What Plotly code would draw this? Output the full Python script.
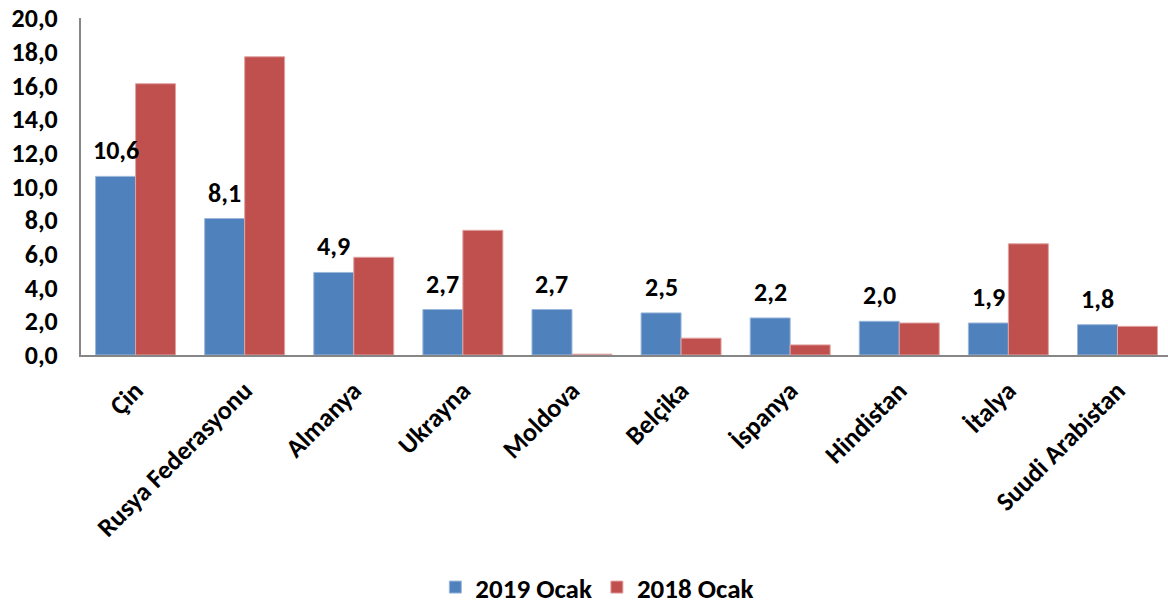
import plotly.graph_objects as go

categories = ["Çin", "Rusya Federasyonu", "Almanya", "Ukrayna", "Moldova",
              "Belçika", "İspanya", "Hindistan", "İtalya", "Suudi Arabistan"]
values_2019 = [10.6, 8.1, 4.9, 2.7, 2.7, 2.5, 2.2, 2.0, 1.9, 1.8]
values_2018 = [16.1, 17.7, 5.8, 7.4, 0.05, 1.0, 0.6, 1.9, 6.6, 1.7]
series_names = ["2019 Ocak", "2018 Ocak"]
y_ticks = [0, 2, 4, 6, 8, 10, 12, 14, 16, 18, 20]

FONT = "Carlito, Calibri, 'Open Sans', sans-serif"
BLUE = "#4F81BD"
RED = "#C0504D"

fig = go.Figure()
fig.add_trace(go.Bar(x=categories, y=values_2019, name=series_names[0],
                     marker=dict(color=BLUE, line=dict(color="#9DB7DB", width=1))))
fig.add_trace(go.Bar(x=categories, y=values_2018, name=series_names[1],
                     marker=dict(color=RED, line=dict(color="#E0A3A2", width=1))))

for c, v in zip(categories, values_2019):
    fig.add_annotation(x=c, y=v, text=f"{v:.1f}".replace(".", ","),
                       showarrow=False, xshift=-20, yshift=26, yanchor="middle",
                       font=dict(family=FONT, size=26, color="black", weight="bold"))

fig.update_layout(
    width=1168, height=605,
    margin=dict(l=81, r=0, t=18, b=250, autoexpand=False),
    paper_bgcolor="white", plot_bgcolor="white",
    barmode="group", bargap=0.267, bargroupgap=0,
    separators=",.",
    font=dict(family=FONT, size=20, color="black", weight="bold"),
    legend=dict(orientation="h", x=0.475, xanchor="center", y=-0.69, yanchor="middle",
                yref="paper", font=dict(family=FONT, size=27, weight="bold"),
                itemwidth=30, traceorder="normal"),
    showlegend=True,
)
fig.update_xaxes(range=[-0.5, 9.463], showline=True, linecolor="#868686", linewidth=2,
                 tickangle=-45, showgrid=False, ticks="", automargin=False,
                 tickfont=dict(family=FONT, size=26, weight="bold"),
                 ticklabelstandoff=8)
fig.update_yaxes(range=[0, 20], tickvals=y_ticks, tickformat=".1f", showline=True,
                 linecolor="#868686", linewidth=2, showgrid=False, zeroline=False,
                 ticks="", automargin=False,
                 tickfont=dict(family=FONT, size=26, weight="bold"),
                 ticklabelstandoff=16)

fig.write_html("out.html", config={"displayModeBar": False},
               post_script="document.body.style.margin='0';document.body.style.overflow='hidden';")
